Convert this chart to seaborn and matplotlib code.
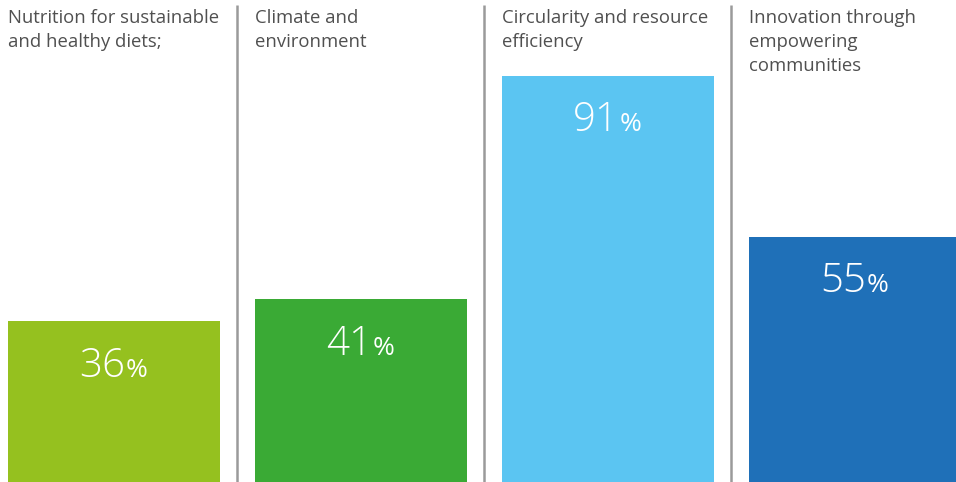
import matplotlib
matplotlib.use("Agg")
import matplotlib.pyplot as plt
import seaborn as sns
import pandas as pd

# Data
categories = [
    "Nutrition for sustainable\nand healthy diets;",
    "Climate and\nenvironment",
    "Circularity and resource\nefficiency",
    "Innovation through\nempowering\ncommunities",
]
shares = [36, 41, 91, 55]
colors = ["#95C11F", "#3AAA35", "#5BC5F2", "#1F70B8"]

sns.set_theme(style="white")
plt.rcParams["font.family"] = ["Open Sans", "DejaVu Sans"]

df = pd.DataFrame({"category": categories, "share": shares})

fig = plt.figure(figsize=(9.56, 4.82), dpi=100)
ax = fig.add_axes([0, 0, 1, 1])

sns.barplot(data=df, x="category", y="share", hue="category",
            palette=colors, legend=False, width=0.858, ax=ax,
            saturation=1, linewidth=0)

ax.set_xlim(-0.4615, 3.409)
ax.set_ylim(0, 108)
ax.axis("off")

# separators between panels
for xs in [0.5, 1.5, 2.5]:
    ax.plot([xs, xs], [0, 106.9], color="#9a9a9a", lw=1.8, solid_capstyle="butt")

# panel titles and value labels
for i, (cat, val) in enumerate(zip(categories, shares)):
    ax.annotate(cat, xy=(i - 0.429, 108), xycoords="data",
                xytext=(0, -6.5), textcoords="offset points",
                ha="left", va="top", fontsize=13.3, color="#505050",
                linespacing=1.42)
    ax.annotate(str(val), xy=(i, val), xytext=(8, -40),
                textcoords="offset points", ha="right", va="baseline",
                fontsize=29, color="white", fontweight="light")
    ax.annotate("%", xy=(i, val), xytext=(8.5, -40),
                textcoords="offset points", ha="left", va="baseline",
                fontsize=19, color="white")

fig.savefig("out.png", dpi=100)
